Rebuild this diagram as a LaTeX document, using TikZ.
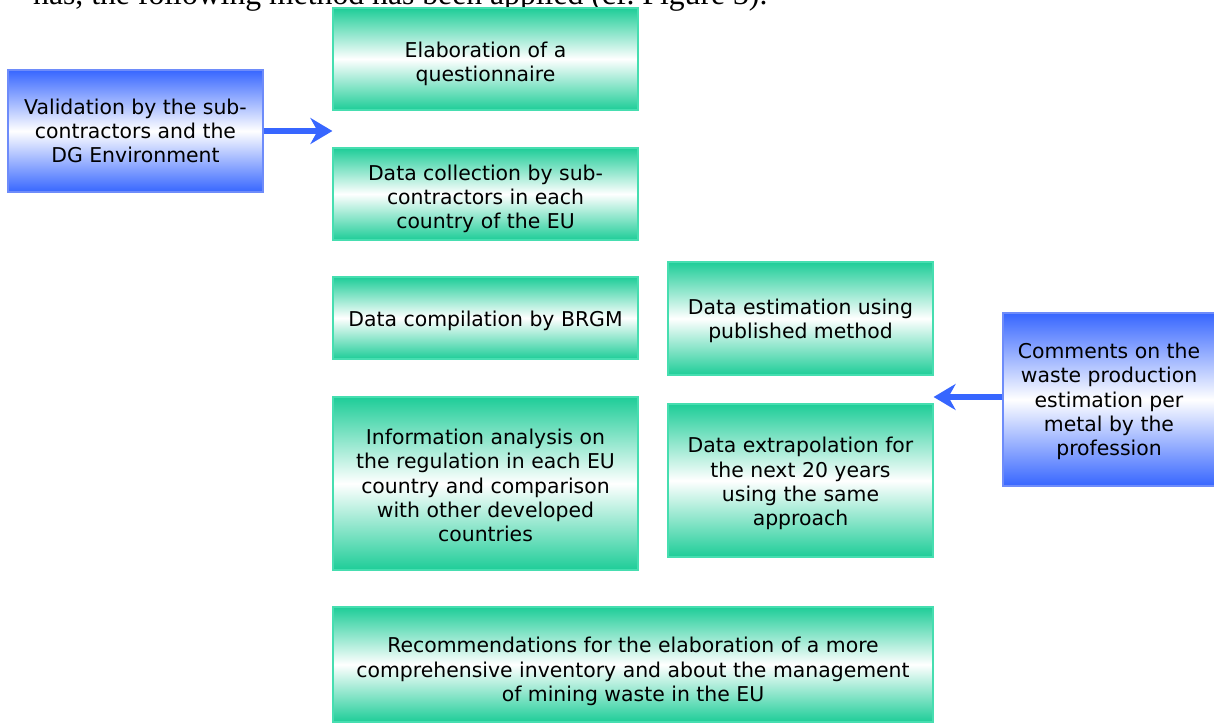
\documentclass[tikz,border=0pt]{standalone}
\usepackage{fontspec}
\setmainfont{DejaVu Sans}
\newfontfamily\bodyfont{Liberation Serif}
\usetikzlibrary{arrows.meta}
\definecolor{stagegreen}{RGB}{30,205,152}
\definecolor{stageline}{RGB}{70,222,176}
\definecolor{remarkblue}{RGB}{55,102,255}
\definecolor{remarkline}{RGB}{110,140,250}
% pushes the lines of a box down by #1 pt
\newcommand{\sinkby}[1]{\rule{0pt}{\dimexpr 15.6pt+#1pt*2\relax}}

\begin{document}
\begin{tikzpicture}[x=1pt,y=-1pt,>=Stealth,stage/.style={draw=stageline, line width=1.2pt, top color=stagegreen, bottom color=stagegreen, middle color=white, align=center, inner sep=0pt, font=\fontsize{20.4}{24.2}\selectfont},remark/.style={draw=remarkline, line width=1.2pt, top color=remarkblue, bottom color=remarkblue, middle color=white, align=center, inner sep=0pt, font=\fontsize{20.4}{24.2}\selectfont},feed/.style={-{Stealth[length=22pt,width=26pt]}, line width=5.5pt, draw=remarkblue}]
\useasboundingbox (0,0) rectangle (1214,722);
\clip (0,0) rectangle (1214,722);
\node[anchor=base west, inner sep=0pt, font=\bodyfont\fontsize{31.7}{36}\selectfont] (intro) at (33,5) {has, the following method has been applied (cf.~Figure~3).};
\node[stage, minimum width=305pt, minimum height=102pt] (quest) at (485.5,59) {\sinkby{5}Elaboration of a\\questionnaire};
\node[stage, minimum width=305pt, minimum height=92pt] (collect) at (485.5,194) {\sinkby{5}Data collection by sub-\\contractors in each\\country of the EU};
\node[stage, minimum width=305pt, minimum height=82pt] (compil) at (485.5,318) {\sinkby{3}Data compilation by BRGM};
\node[stage, minimum width=305pt, minimum height=173pt] (analysis) at (485.5,483.5) {\sinkby{2}Information analysis on\\the regulation in each EU\\country and comparison\\with other developed\\countries};
\node[stage, minimum width=265pt, minimum height=113pt] (estim) at (800.5,318.5) {\sinkby{2}Data estimation using\\published method};
\node[stage, minimum width=265pt, minimum height=153pt] (extrap) at (800.5,480.5) {\sinkby{3}Data extrapolation for\\the next 20 years\\using the same\\approach};
\node[stage, minimum width=600pt, minimum height=115pt] (recom) at (633,664.5) {\sinkby{7}Recommendations for the elaboration of a more\\comprehensive inventory and about the management\\of mining waste in the EU};
\node[remark, minimum width=255pt, minimum height=122pt] (valid) at (135.5,131) {Validation by the sub-\\contractors and the\\DG Environment};
\node[remark, minimum width=212pt, minimum height=173pt] (comments) at (1109,399.5) {\sinkby{2}Comments on the\\waste production\\estimation per\\metal by the\\profession};
\coordinate (validtip) at (valid.east -| quest.west);
\coordinate (commtip) at (comments.west -| extrap.east);
\draw[feed] (valid.east) -- (validtip);
\draw[feed] ([yshift=2.5pt]comments.west) -- ([yshift=2.5pt]commtip);
\end{tikzpicture}
\end{document}
